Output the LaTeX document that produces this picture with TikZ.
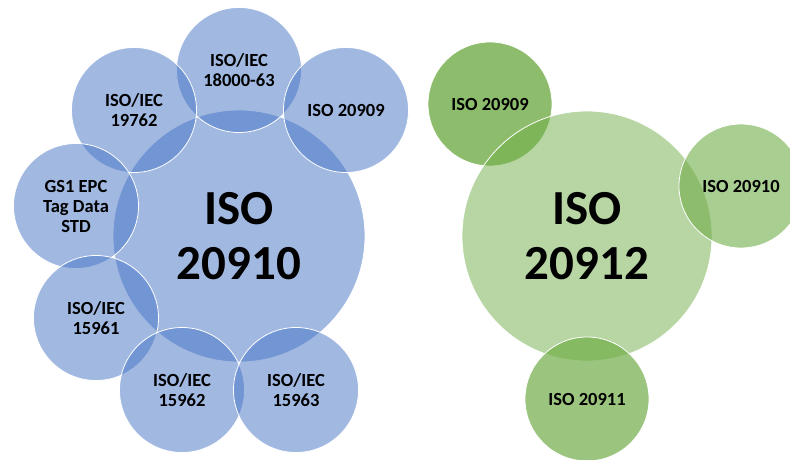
\documentclass[tikz,border=0pt]{standalone}
\usepackage{fontspec}
\setmainfont{Carlito}
\definecolor{blueC}{HTML}{4472C4}
\definecolor{greenC}{HTML}{70AD47}
\tikzset{
  bub/.style={circle, inner sep=0pt, draw=white, line width=0.8pt, text opacity=1, align=center, text=black},
  smalltxt/.style={font=\fontsize{18.5}{20}\selectfont\bfseries},
  bigtxt/.style={font=\fontsize{49}{55}\selectfont\bfseries},
  bsmall/.style={bub, smalltxt, minimum size=125pt, fill=blueC, fill opacity=0.5},
  bbig/.style={bub, bigtxt, minimum size=252pt, fill=blueC, fill opacity=0.5},
  gsmall/.style={bub, smalltxt, minimum size=124pt, fill=greenC, fill opacity=0.7},
  gbig/.style={bub, bigtxt, minimum size=250pt, fill=greenC, fill opacity=0.5}
}
\begin{document}
\begin{tikzpicture}[x=1pt,y=-1pt]
\useasboundingbox (0,0) rectangle (790,459);
% blue cluster
\node[bbig] (b0) at (239,236) {ISO\\20910};
\node[bsmall] (b1) at (239,70) {ISO/IEC\\18000-63};
\node[bsmall] (b2) at (346,110) {ISO 20909};
\node[bsmall] (b3) at (134,110) {ISO/IEC\\19762};
\node[bsmall] (b4) at (76,206) {GS1 EPC\\Tag Data\\STD};
\node[bsmall] (b5) at (96,318) {ISO/IEC\\15961};
\node[bsmall] (b6) at (182,390) {ISO/IEC\\15962};
\node[bsmall] (b7) at (296,390) {ISO/IEC\\15963};
% green cluster
\node[gsmall, fill opacity=0.8] (g1) at (490,104) {ISO 20909};
\node[gbig] (g0) at (587,236) {ISO\\20912};
\node[gsmall, fill opacity=0.6] (g2) at (741,186) {ISO 20910};
\node[gsmall] (g3) at (587,399) {ISO 20911};
\end{tikzpicture}
\end{document}
